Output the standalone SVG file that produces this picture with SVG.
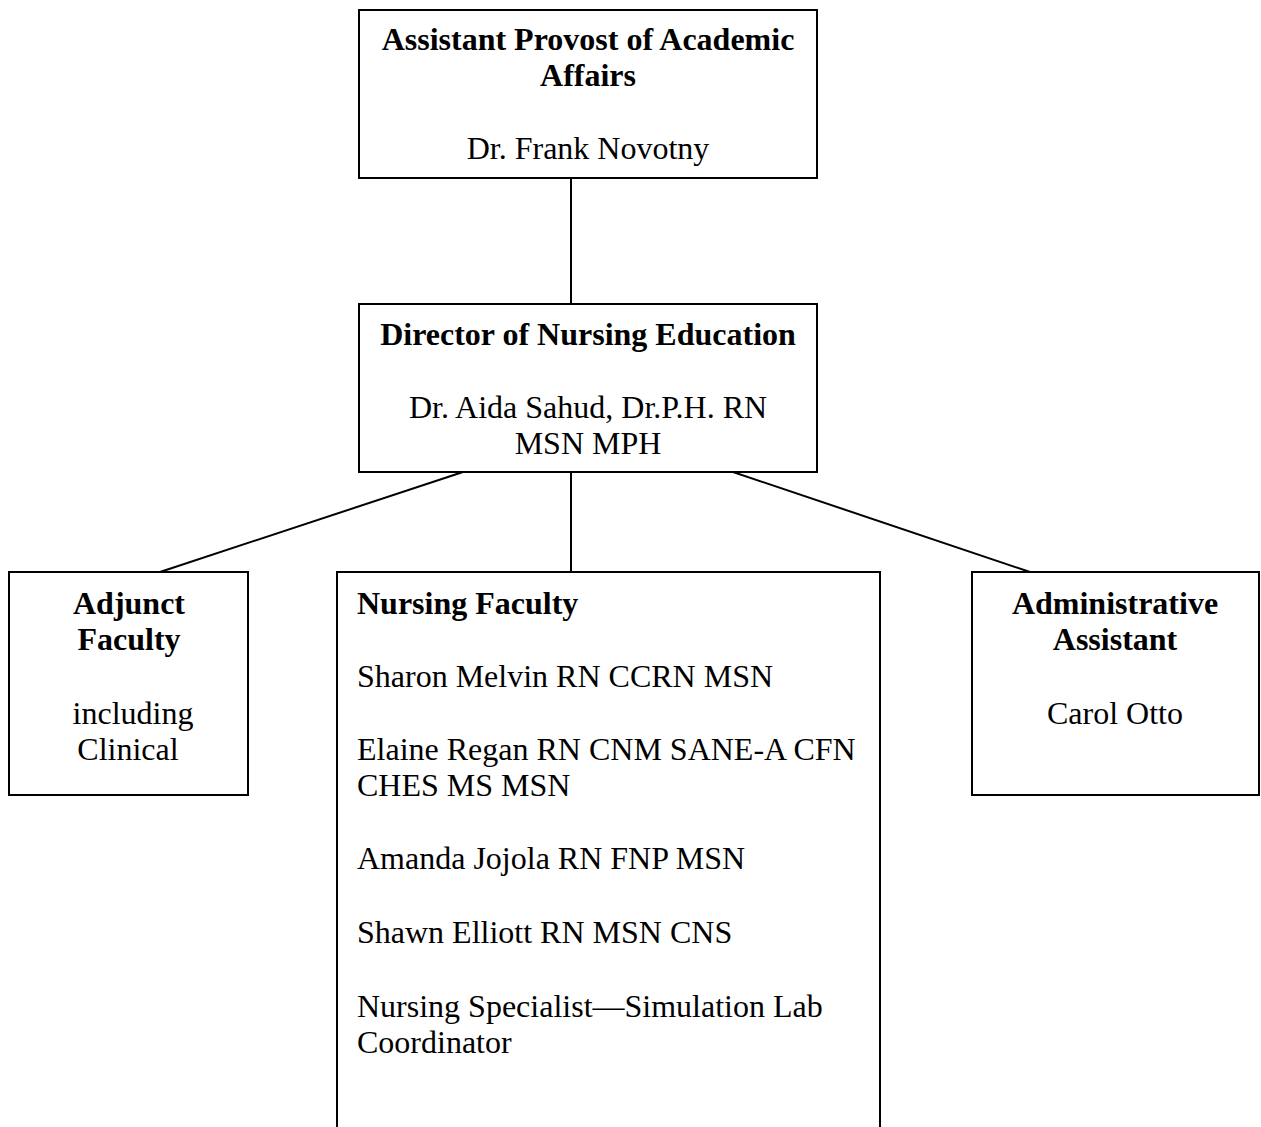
<svg xmlns="http://www.w3.org/2000/svg" width="1261" height="1127" viewBox="0 0 1261 1127">
<style>
.box{fill:#fff;stroke:#000;stroke-width:2}
.ln{stroke:#000;stroke-width:2;fill:none}
text{font-family:"Liberation Serif","Times New Roman",serif;font-size:32px;fill:#000}
.b{font-weight:bold}
.c{text-anchor:middle}
</style>
<rect width="1261" height="1127" fill="#fff"/>
<g id="connectors">
<line class="ln" x1="571" y1="178" x2="571" y2="304"/>
<line class="ln" x1="463" y1="472" x2="160" y2="572"/>
<line class="ln" x1="571" y1="472" x2="571" y2="572"/>
<line class="ln" x1="733" y1="472" x2="1030" y2="572"/>
</g>
<g id="provost">
<rect class="box" x="359" y="10" width="458" height="168"/>
<text class="b c" x="588" y="50">Assistant Provost of Academic</text>
<text class="b c" x="588" y="86">Affairs</text>
<text class="c" x="588" y="159">Dr. Frank Novotny</text>
</g>
<g id="director">
<rect class="box" x="359" y="304" width="458" height="168"/>
<text class="b c" x="588" y="345">Director of Nursing Education</text>
<text class="c" x="588" y="418">Dr. Aida Sahud, Dr.P.H. RN</text>
<text class="c" x="588" y="454">MSN MPH</text>
</g>
<g id="adjunct">
<rect class="box" x="9" y="572" width="239" height="223"/>
<text class="b c" x="129" y="614">Adjunct</text>
<text class="b c" x="129" y="650">Faculty</text>
<text class="c" x="133" y="724">including</text>
<text class="c" x="128" y="760">Clinical</text>
</g>
<g id="faculty">
<rect class="box" x="337" y="572" width="543" height="570"/>
<text class="b" x="357" y="614">Nursing Faculty</text>
<text x="357" y="687">Sharon Melvin RN CCRN MSN</text>
<text x="357" y="760">Elaine Regan RN CNM SANE-A CFN</text>
<text x="357" y="796">CHES MS MSN</text>
<text x="357" y="869">Amanda Jojola RN FNP MSN</text>
<text x="357" y="943">Shawn Elliott RN MSN CNS</text>
<text x="357" y="1017">Nursing Specialist—Simulation Lab</text>
<text x="357" y="1053">Coordinator</text>
</g>
<g id="admin">
<rect class="box" x="972" y="572" width="287" height="223"/>
<text class="b c" x="1115" y="614">Administrative</text>
<text class="b c" x="1115" y="650">Assistant</text>
<text class="c" x="1115" y="724">Carol Otto</text>
</g>
</svg>
